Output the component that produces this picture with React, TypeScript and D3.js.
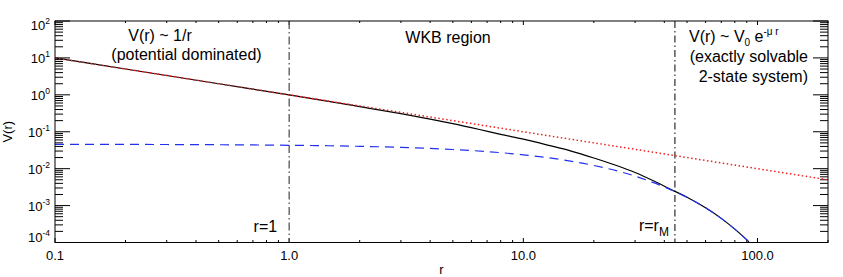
import React from "react";
import * as d3 from "d3";

// 1/r potential (straight line on log-log)
const rRed = [0.1, 200];
const vRed = [10, 0.005];

// full potential (solid black)
const rBlack = [0.1, 0.2, 0.5, 1, 2, 3, 4, 5, 6.5, 8, 10, 13, 16, 20, 25, 30, 37, 44.4, 50, 60, 70, 80, 92];
const vBlack = [10, 5, 2, 1, 0.48, 0.31, 0.221, 0.166, 0.115, 0.085, 0.063, 0.042, 0.03, 0.0195, 0.0122, 0.0079, 0.0043, 0.00243, 0.00168, 0.00087, 0.00045, 0.00023, 0.000104];

// V0 e^{-mu r} (dashed blue)
const rBlue = [0.1, 0.5, 1, 2, 3, 5, 7, 10, 15, 20, 30, 40, 50, 60, 70, 80, 92];
const vBlue = [0.0457, 0.0445, 0.043, 0.0403, 0.0378, 0.033, 0.029, 0.0237, 0.017, 0.0122, 0.0063, 0.0032, 0.00168, 0.00087, 0.00045, 0.00023, 0.000104];

// boundaries: r = 1 and r = rM
const rMarks = [1, 44.4];

const xDomain = [0.1, 200];
const yDomain = [1e-4, 1e2];
const xTickLabels = ["0.1", "1.0", "10.0", "100.0"];

const W = 843;
const H = 277;
const margins = { left: 55, right: 15, top: 21, bottom: 34.5 };
const FONT = "'Liberation Sans', Arial, Helvetica, sans-serif";

const App = () => {
  const width = W - margins.left - margins.right;
  const height = H - margins.top - margins.bottom;

  //scales
  const x = d3.scaleLog().domain(xDomain).range([0, width]);
  const y = d3.scaleLog().domain(yDomain).range([height, 0]);

  const line = d3
    .line<[number, number]>()
    .x(d => x(d[0]))
    .y(d => y(d[1]))
    .curve(d3.curveMonotoneX);

  const zip = (rs: number[], vs: number[]) => rs.map((r, i) => [r, vs[i]] as [number, number]);

  const isMajor = (v: number) => Math.abs(Math.log10(v) - Math.round(Math.log10(v))) < 1e-9;
  const xTicks = x.ticks();
  const yTicks = y.ticks();
  const xMajor = xTicks.filter(isMajor);
  const yMajor = yTicks.filter(isMajor);

  return (
    <svg
      width={W}
      height={H}
      style={{ position: "absolute", left: 0, top: 0, background: "#fff" }}
      fontFamily={FONT}
    >
      <defs>
        <clipPath id="plot-clip">
          <rect width={width} height={height} />
        </clipPath>
      </defs>
      <g transform={`translate(${margins.left}, ${margins.top})`}>
        {/* x ticks, bottom and top */}
        {xTicks.map((t, i) => {
          const len = isMajor(t) ? 4.5 : 2.5;
          return (
            <g key={"xt" + i} stroke="#000" strokeWidth={1}>
              <line x1={x(t)} x2={x(t)} y1={height} y2={height - len} />
              <line x1={x(t)} x2={x(t)} y1={0} y2={len - 0.5} />
            </g>
          );
        })}
        {/* y ticks, left and right */}
        {yTicks.map((t, i) => {
          const len = isMajor(t) ? 15 : 8;
          return (
            <g key={"yt" + i} stroke="#000" strokeWidth={1}>
              <line x1={0} x2={len} y1={y(t)} y2={y(t)} />
              <line x1={width} x2={width - len} y1={y(t)} y2={y(t)} />
            </g>
          );
        })}

        {/* x tick labels */}
        {xMajor.map((t, i) => (
          <text key={"xl" + i} x={x(t)} y={height + 17} textAnchor="middle" fontSize={13}>
            {xTickLabels[i]}
          </text>
        ))}
        {/* y tick labels */}
        {yMajor.map((t, i) => {
          const e = Math.round(Math.log10(t));
          let dy = 5;
          if (i === 0) dy = -1;
          if (i === yMajor.length - 1) dy = 8.5;
          return (
            <text key={"yl" + i} x={-5} y={y(t) + dy} textAnchor="end" fontSize={13}>
              10
              <tspan fontSize={8.5} dy={-6}>{e}</tspan>
            </text>
          );
        })}

        {/* boundary lines */}
        <line
          x1={x(rMarks[0])}
          x2={x(rMarks[0])}
          y1={0}
          y2={height}
          stroke="#555"
          strokeWidth={1.3}
          strokeDasharray="8,3,1.5,3"
        />
        <line
          x1={x(rMarks[1])}
          x2={x(rMarks[1])}
          y1={0}
          y2={height}
          stroke="#000"
          strokeWidth={1}
          strokeDasharray="7,3,1.5,3"
        />

        {/* curves */}
        <g clipPath="url(#plot-clip)" fill="none">
          <path d={line(zip(rBlack, vBlack)) || ""} stroke="#000" strokeWidth={1.2} />
          <path d={line(zip(rBlue, vBlue)) || ""} stroke="#2233ee" strokeWidth={1.2} strokeDasharray="9,6" />
          <path d={line(zip(rRed, vRed)) || ""} stroke="#f02020" strokeWidth={1.5} strokeDasharray="1.5,2.5" />
        </g>

        {/* frame */}
        <rect width={width} height={height} fill="none" stroke="#000" strokeWidth={1} />

        {/* annotations */}
        <g fontSize={16} fill="#000">
          <text x={105} y={20} textAnchor="middle">V(r) ~ 1/r</text>
          <text x={131.5} y={39} textAnchor="middle">(potential dominated)</text>
          <text x={393} y={22} textAnchor="middle">WKB region</text>
          <text x={634} y={21}>
            V(r) ~ V<tspan fontSize={10} dy={4}>0</tspan>
            <tspan dy={-4}> e</tspan>
            <tspan fontSize={10} dy={-7}>-μ r</tspan>
          </text>
          <text x={753} y={41} textAnchor="end">(exactly solvable</text>
          <text x={753} y={61} textAnchor="end">2-state system)</text>
          <text x={x(rMarks[0]) - 12} y={height - 11} textAnchor="end">r=1</text>
          <text x={x(rMarks[1]) - 36} y={height - 12}>
            r=r<tspan fontSize={12} dy={5}>M</tspan>
          </text>
        </g>

        {/* axis titles */}
        <text x={width / 2} y={height + 31} textAnchor="middle" fontSize={13}>r</text>
        <text
          transform={`translate(${-43}, ${height / 2}) rotate(-90)`}
          textAnchor="middle"
          fontSize={13}
        >
          V(r)
        </text>
      </g>
    </svg>
  );
};

export default App;
